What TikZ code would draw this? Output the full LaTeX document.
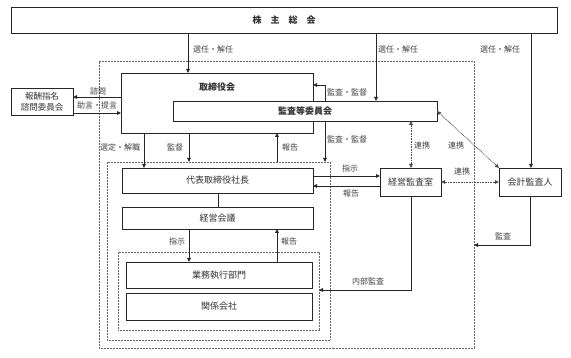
\documentclass[tikz,border=0pt]{standalone}
\usepackage{fontspec}
\newfontfamily\jp{Noto Sans CJK JP}
\usetikzlibrary{arrows.meta}
\begin{document}
\begin{tikzpicture}[x=1pt,y=-1pt,
  box/.style={draw=black!85, line width=0.9pt, inner sep=0pt, outer sep=0pt, fill=white,
    font=\jp\fontsize{9}{10}\selectfont, text=black!80},
  dotbox/.style={draw=black!60, dash pattern=on 0.7pt off 0.8pt, line width=0.7pt, inner sep=0pt, outer sep=0pt},
  lbl/.style={font=\jp\fontsize{8}{9}\selectfont, text=black!75, inner sep=0.5pt},
  arr/.style={-{Triangle[length=4pt,width=3.6pt]}, line width=0.8pt, draw=black!85},
  plain/.style={line width=0.8pt, draw=black!85},
  darr/.style={{Triangle[length=4pt,width=3.6pt]}-{Triangle[length=4pt,width=3.6pt]}, dash pattern=on 0.8pt off 0.8pt, line width=0.8pt, draw=black!70}]
\useasboundingbox (0,0) rectangle (571,358);
% containers
\node[dotbox, minimum width=375pt, minimum height=287pt] (outer) at (286.5,204.5) {};
\node[dotbox, minimum width=223pt, minimum height=178pt] (dot2) at (218.5,251) {};
\node[dotbox, minimum width=201pt, minimum height=78pt] (dot3) at (218.5,291) {};
% boxes
\node[box, minimum width=546pt, minimum height=26pt, font=\jp\bfseries\fontsize{9}{10}\selectfont] (kabu) at (284,20) {株　主　総　会};
\node[box, minimum width=192pt, minimum height=60pt] (tori) at (217,103) {};
\node[lbl, font=\jp\bfseries\fontsize{9}{10}\selectfont, text=black!80] (torilbl) at (217,87) {取締役会};
\node[box, minimum width=264pt, minimum height=20pt, font=\jp\bfseries\fontsize{9}{10}\selectfont] (kansa) at (305,111) {監査等委員会};
\node[box, minimum width=62pt, minimum height=27pt, align=center, font=\jp\fontsize{8.5}{11}\selectfont] (houshu) at (42,101.5) {報酬指名\\諮問委員会};
\node[box, minimum width=191pt, minimum height=25pt] (daihyo) at (217.5,180.5) {代表取締役社長};
\node[box, minimum width=191pt, minimum height=22pt] (kaigi) at (217.5,218) {経営会議};
\node[box, minimum width=186pt, minimum height=26pt] (gyomu) at (219,275) {業務執行部門};
\node[box, minimum width=186pt, minimum height=27pt] (kankei) at (219,306.5) {関係会社};
\node[box, minimum width=61pt, minimum height=28pt] (kkansa) at (410.5,182) {経営監査室};
\node[box, minimum width=62pt, minimum height=28pt] (kaikei) at (530,182) {会計監査人};
% helper coordinates
\coordinate (xa) at (188,0);
\coordinate (xb) at (376,0);
\coordinate (xc) at (531,0);
\coordinate (xd) at (325,0);
\coordinate (xe) at (144,0);
\coordinate (xf) at (189,0);
\coordinate (xg) at (277,0);
\coordinate (xh) at (411,0);
\coordinate (xi) at (218,0);
\coordinate (ya) at (0,85);
\coordinate (yb) at (0,97);
\coordinate (yc) at (0,113);
\coordinate (yd) at (0,176);
\coordinate (ye) at (0,186);
\coordinate (yf) at (0,290);
\coordinate (yg) at (0,245);
% connectors
\draw[arr] (kabu.south -| xa) -- (tori.north -| xa);
\draw[arr] (kabu.south -| xb) -- (kansa.north -| xb);
\draw[arr] (kabu.south -| xc) -- (kaikei.north -| xc);
\draw[arr] (kansa.north -| xd) |- (tori.east |- ya);
\draw[arr] (kansa.south -| xd) -- (dot2.north -| xd);
\draw[arr] (tori.west |- yb) -- (houshu.east |- yb);
\draw[arr] (houshu.east |- yc) -- (tori.west |- yc);
\draw[arr] (tori.south -| xe) -- (daihyo.north -| xe);
\draw[arr] (tori.south -| xf) -- (dot2.north -| xf);
\draw[arr] (dot2.north -| xg) -- (tori.south -| xg);
\draw[arr] (daihyo.east |- yd) -- (kkansa.west |- yd);
\draw[arr] (kkansa.west |- ye) -- (daihyo.east |- ye);
\draw[plain] (daihyo.south -| xi) -- (kaigi.north -| xi);
\draw[arr] (kaigi.south -| xf) -- (gyomu.north -| xf);
\draw[arr] (gyomu.north -| xg) -- (kaigi.south -| xg);
\draw[darr] (kansa.south -| xh) -- (kkansa.north -| xh);
\draw[darr] (kansa.east) -- (kaikei.north west);
\draw[darr] (kkansa.east) -- (kaikei.west);
\draw[arr] (kkansa.south -| xh) |- (dot3.east |- yf);
\draw[arr] (kaikei.south) |- (outer.east |- yg);
% labels
\node[lbl] (l1) at (213,49) {選任・解任};
\node[lbl] (l2) at (398,49) {選任・解任};
\node[lbl] (l3) at (500,49) {選任・解任};
\node[lbl] (l4) at (347,92) {監査・監督};
\node[lbl] (l5) at (347,139) {監査・監督};
\node[lbl] (l6) at (98,91) {諮問};
\node[lbl] (l7) at (97,105) {助言・提言};
\node[lbl] (l8) at (120,147) {選定・解職};
\node[lbl] (l9) at (175,147) {監督};
\node[lbl] (l10) at (290,147) {報告};
\node[lbl] (l11) at (350,168) {指示};
\node[lbl] (l12) at (351,193) {報告};
\node[lbl] (l13) at (177,241) {指示};
\node[lbl] (l14) at (289,241) {報告};
\node[lbl] (l15) at (422,145) {連携};
\node[lbl] (l16) at (456,145) {連携};
\node[lbl] (l17) at (462,171) {連携};
\node[lbl] (l18) at (368,281) {内部監査};
\node[lbl] (l19) at (503,236) {監査};
\end{tikzpicture}
\end{document}
